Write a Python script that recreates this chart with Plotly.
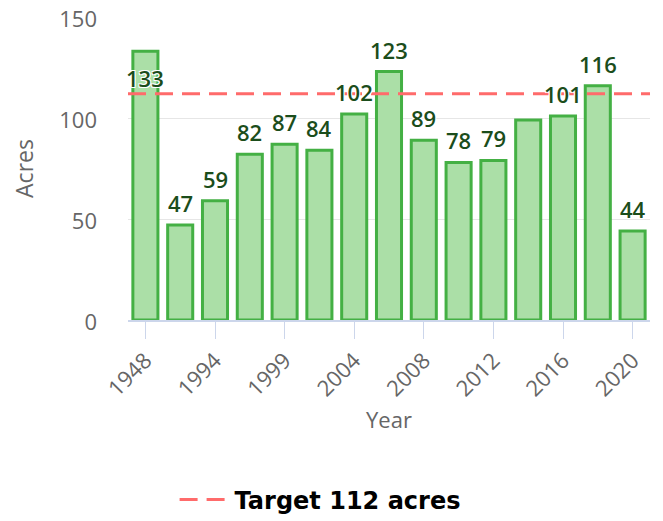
import plotly.graph_objects as go

years = ["1948", "1990", "1994", "1997", "1999", "2002", "2004", "2006",
         "2008", "2010", "2012", "2014", "2016", "2018", "2020"]
acres = [133, 47, 59, 82, 87, 84, 102, 123, 89, 78, 79, 99, 101, 116, 44]
tick_years = ["1948", "1994", "1999", "2004", "2008", "2012", "2016", "2020"]
hidden_label_years = ["2014"]
inside_label_years = ["1948"]
target = 112
target_name = "Target 112 acres"

FONT = "Open Sans"

fig = go.Figure()
fig.add_trace(go.Bar(
    x=years, y=acres,
    marker=dict(color="#abdfa7", line=dict(color="#44b044", width=3)),
    showlegend=False,
    hoverinfo="x+y",
))

fig.add_shape(
    type="line", xref="paper", yref="y",
    x0=0, x1=1, y0=target, y1=target,
    line=dict(color="#ff6b6b", width=3, dash="18px,9px"),
    showlegend=True, name=target_name,
)

annotations = []
for i, (yr, v) in enumerate(zip(years, acres)):
    if yr in hidden_label_years:
        continue
    annotations.append(dict(
        x=i, y=v, xref="x", yref="y", text=str(v), showarrow=False,
        yanchor="middle", yshift=(-27 if yr in inside_label_years else 22),
        font=dict(family=FONT, size=22, color="#1b4d1b", weight=600,
                  shadow="1px 1px 0 #fff, -1px -1px 0 #fff, 1px -1px 0 #fff, -1px 1px 0 #fff"),
    ))

fig.update_layout(
    width=655, height=513,
    margin=dict(l=120, r=13, t=9, b=201),
    plot_bgcolor="white", paper_bgcolor="white",
    font=dict(family=FONT, color="#666666"),
    bargap=0.28,
    annotations=annotations,
    showlegend=True,
    legend=dict(orientation="h", x=0.368, xanchor="center",
                yref="container", y=0.041, yanchor="middle",
                itemwidth=50,
                font=dict(family="DejaVu Sans", size=24, color="#000000", weight="bold")),
    xaxis=dict(
        type="category", categoryorder="array", categoryarray=years,
        range=[-0.5, len(years) - 0.5], autorange=False,
        tickvals=tick_years, ticktext=tick_years,
        tickangle=-45, ticks="outside", ticklen=17, tickcolor="#ccd6eb",
        showline=True, linecolor="#ccd6eb", linewidth=2,
        showgrid=False, tickfont=dict(size=22, color="#666666"),
        title=dict(text="Year", font=dict(size=22, color="#666666"), standoff=12),
        automargin=False,
    ),
    yaxis=dict(
        range=[0, 150], autorange=False, tickvals=[0, 50, 100, 150],
        showgrid=True, gridcolor="#e6e6e6", gridwidth=1,
        zeroline=False, ticks="", ticklabelstandoff=30,
        ticklabeloverflow="allow", ticklabelshift=2,
        tickfont=dict(size=22, color="#666666"),
        title=dict(text="Acres", font=dict(size=23, color="#666666"), standoff=20),
        automargin=False,
    ),
)

fig.write_html("out.html")
